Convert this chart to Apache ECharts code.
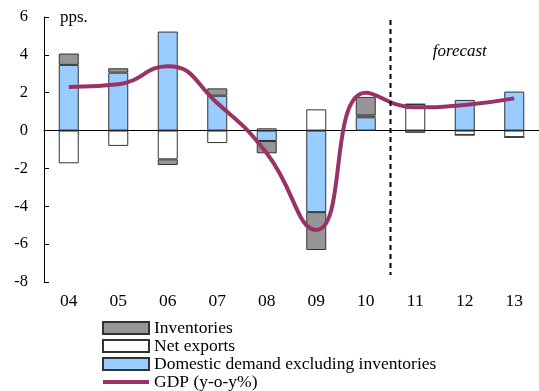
<!DOCTYPE html>
<html><head><meta charset="utf-8">
<script src="https://cdn.jsdelivr.net/npm/echarts@6/dist/echarts.min.js"></script>
<style>html,body{margin:0;padding:0;background:#fff}#c{width:539px;height:391px}</style>
</head><body><div id="c"></div>
<script>
const years = ['04','05','06','07','08','09','10','11','12','13'];
const domestic = [3.47, 3.06, 5.23, 1.84, -0.55, -4.31, 0.70, -0.12, 1.62, 2.06];
const netExports = [-1.73, -0.81, -1.52, -0.66, 0.12, 1.12, 0.10, 1.39, -0.23, -0.35];
const inventories = [0.60, 0.23, -0.30, 0.39, -0.65, -2.00, 0.98, 0, 0, 0];
const gdp = [2.30, 2.45, 3.40, 1.45, -1.20, -5.25, 2.00, 1.23, 1.35, 1.70];
const yMin = -8, yMax = 6, yStep = 2;

const FONT = 'Liberation Serif';
const chart = echarts.init(document.getElementById('c'));
const barBorder = {borderColor: '#333', borderWidth: 1};
chart.setOption({
  animation: false,
  textStyle: {fontFamily: FONT, color: '#000'},
  grid: {left: 44, right: 0, top: 17, bottom: 109},
  xAxis: [
    {type: 'category', data: years, position: 'bottom',
     axisLine: {onZero: true, lineStyle: {color: '#000', width: 1}},
     axisTick: {inside: true, length: 5, lineStyle: {color: '#000'}},
     axisLabel: {show: false}},
    {type: 'category', data: years, position: 'bottom',
     axisLine: {show: false, onZero: false}, axisTick: {show: false},
     axisLabel: {fontFamily: FONT, fontSize: 17.5, color: '#000', margin: 10}}
  ],
  yAxis: {type: 'value', min: yMin, max: yMax, interval: yStep,
    name: 'pps.', nameLocation: 'end', nameGap: -1,
    nameTextStyle: {fontFamily: FONT, fontSize: 17, color: '#000', align: 'left', verticalAlign: 'middle', padding: [0, 0, 0, 16]},
    axisLine: {show: true, lineStyle: {color: '#000', width: 1}},
    axisTick: {show: true, inside: true, length: 5, lineStyle: {color: '#000'}},
    axisLabel: {fontFamily: FONT, fontSize: 16.5, color: '#000', margin: 16},
    splitLine: {show: false}},
  legend: {orient: 'vertical', left: 101, top: 319, height: 120, itemWidth: 46, itemHeight: 12, itemGap: 0,
    padding: 0,
    textStyle: {fontFamily: FONT, fontSize: 17.5, color: '#000', lineHeight: 17},
    data: [
      {name: 'Inventories', icon: 'rect'},
      {name: 'Net exports', icon: 'rect'},
      {name: 'Domestic demand excluding inventories', icon: 'rect'},
      {name: 'GDP (y-o-y%)', itemStyle: {opacity: 0}, lineStyle: {width: 4, color: '#993366'}}
    ]},
  series: [
    {name: 'Domestic demand excluding inventories', type: 'bar', stack: 's', barWidth: 20,
     data: domestic, itemStyle: Object.assign({color: '#99ccff'}, barBorder)},
    {name: 'Net exports', type: 'bar', stack: 's', barWidth: 20,
     data: netExports, itemStyle: Object.assign({color: '#ffffff'}, barBorder)},
    {name: 'Inventories', type: 'bar', stack: 's', barWidth: 20,
     data: inventories, itemStyle: Object.assign({color: '#969696'}, barBorder)},
    {name: 'GDP (y-o-y%)', type: 'line', data: gdp, smooth: 0.5, symbol: 'none',
     lineStyle: {color: '#993366', width: 4}, itemStyle: {color: '#993366'}, z: 5}
  ]
});
const x10 = chart.convertToPixel({xAxisIndex: 0}, '10');
const x11 = chart.convertToPixel({xAxisIndex: 0}, '11');
const x12 = chart.convertToPixel({xAxisIndex: 0}, '12');
const xd = (x10 + x11) / 2;
const yTop = chart.convertToPixel({yAxisIndex: 0}, 5.84);
const yBot = chart.convertToPixel({yAxisIndex: 0}, -7.63);
const yF = chart.convertToPixel({yAxisIndex: 0}, 4.2);
chart.setOption({graphic: [
  {type: 'line', shape: {x1: xd, y1: yTop, x2: xd, y2: yBot},
   style: {stroke: '#000', lineWidth: 2, lineDash: [5, 4]}, z: 10},
  {type: 'text', x: x12 - 5, y: yF,
   style: {text: 'forecast', fontFamily: FONT, fontStyle: 'italic', fontSize: 17, fill: '#000', align: 'center', verticalAlign: 'middle'}}
]});
</script></body></html>
